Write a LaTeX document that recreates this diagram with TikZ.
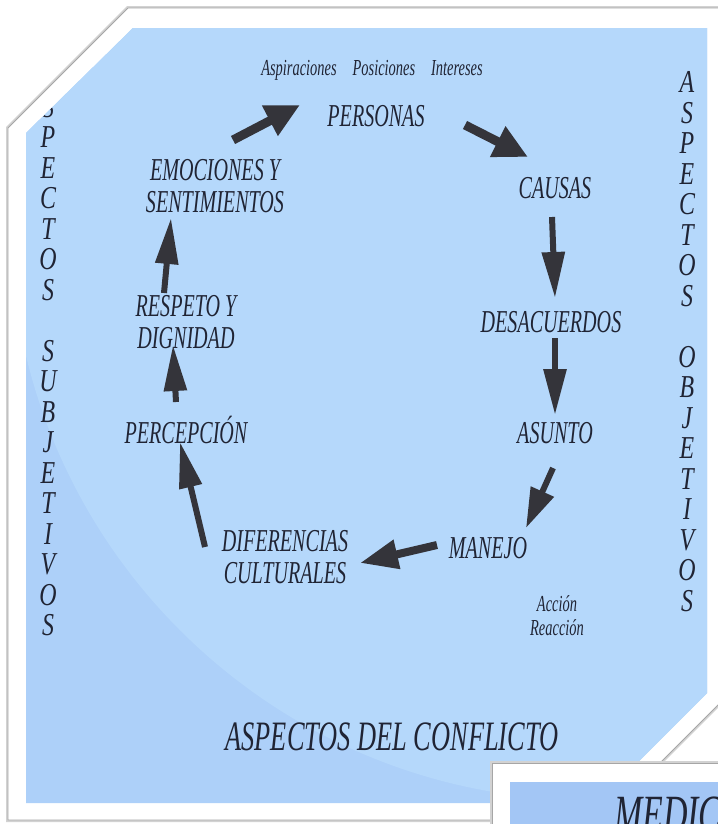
\documentclass[tikz,border=0pt]{standalone}
\usepackage{fontspec}
\setmainfont{Liberation Serif}
\newfontfamily\angosta{Liberation Serif}[FakeStretch=0.63]
\newfontfamily\columnaf{Liberation Serif}[FakeStretch=0.75]
\usetikzlibrary{arrows.meta}

\definecolor{azulclaro}{RGB}{181,216,251}
\definecolor{azulfondo}{RGB}{173,208,249}
\definecolor{azulmedio}{RGB}{163,198,245}
\definecolor{gristexto}{RGB}{32,36,52}
\definecolor{grisflecha}{RGB}{52,52,58}

\tikzset{
  etiqueta/.style={font=\angosta\itshape\fontsize{32}{32}\selectfont, text=gristexto, align=center, inner sep=0pt},
  nota/.style={font=\angosta\itshape\fontsize{23}{24}\selectfont, text=gristexto, align=center, inner sep=0pt},
  letra/.style={font=\columnaf\itshape\fontsize{32}{32}\selectfont, text=gristexto, inner sep=0pt, anchor=base},
  flecha/.style={draw=grisflecha, line width=6bp, -{Triangle[length=46bp,width=22bp]}},
  flechaancha/.style={draw=grisflecha, line width=9bp, -{Triangle[length=34bp,width=32bp]}},
}

\begin{document}
\begin{tikzpicture}[x=1bp,y=-1bp]
	\useasboundingbox (0,0) rectangle (718,824);
	\clip (0,0) rectangle (718,824);
	\fill[white] (0,0) rectangle (718,824);

	% tarjeta principal
	\draw[gray!35,line width=4bp] (128,8)--(740,8)--(740,683)--(603,820)--(8,820)--(8,128)--cycle;
	\fill[white] (128,8)--(740,8)--(740,683)--(603,820)--(8,820)--(8,128)--cycle;
	\draw[gray!70,line width=0.8bp] (128,8)--(740,8)--(740,683)--(603,820)--(8,820)--(8,128)--cycle;

	% fondo azul
	\fill[azulfondo] (133,28)--(707,28)--(707,693)--(597,803)--(26,803)--(26,133)--cycle;
	\begin{scope}
		\clip (133,28)--(707,28)--(707,693)--(597,803)--(26,803)--(26,133)--cycle;
		\fill[azulclaro] (590,220) circle [radius=580];

		% columnas
		\foreach \l [count=\i from 0] in {A,S,P,E,C,T,O,S,{},S,U,B,J,E,T,I,V,O,S}
			\node[letra] (izq-\i) at (48,76+\i*30.5+10.6) {\l};
		\foreach \l [count=\i from 0] in {A,S,P,E,C,T,O,S,{},O,B,J,E,T,I,V,O,S}
			\node[letra] (der-\i) at (687,82+\i*30.5+10.6) {\l};
	\end{scope}

	% textos
	\node[nota] (aspiraciones) at (372,70) {Aspiraciones\hspace{16bp}Posiciones\hspace{16bp}Intereses};
	\node[etiqueta] (personas) at (376,116) {PERSONAS};
	\node[etiqueta] (causas) at (555,188) {CAUSAS};
	\node[etiqueta] (desacuerdos) at (551,322) {DESACUERDOS};
	\node[etiqueta] (asunto) at (555,433) {ASUNTO};
	\node[etiqueta] (manejo) at (488,548) {MANEJO};
	\node[nota] (accion) at (557,616) {Acción\\Reacción};
	\node[etiqueta] (diferencias) at (285,557) {DIFERENCIAS\\CULTURALES};
	\node[etiqueta] (percepcion) at (186,430) {PERCEPCIÓN};
	\node[etiqueta] (respeto) at (186,322) {RESPETO Y\\DIGNIDAD};
	\node[etiqueta] (emociones) at (215,186) {EMOCIONES Y\\SENTIMIENTOS};
	\node[etiqueta,font=\angosta\itshape\fontsize{42}{42}\selectfont] (titulo) at (392,737) {ASPECTOS DEL CONFLICTO};

	% extremos de las flechas
	\coordinate (f1a) at (233,140); \coordinate (f1b) at (300,105);
	\coordinate (f2a) at (465,125); \coordinate (f2b) at (528,157);
	\coordinate (f3a) at (552,217); \coordinate (f3b) at (555,298);
	\coordinate (f4a) at (555,338); \coordinate (f4b) at (555,415);
	\coordinate (f5a) at (553,468); \coordinate (f5b) at (526,528);
	\coordinate (f6a) at (437,545); \coordinate (f6b) at (360,563);
	\coordinate (f7a) at (205,547); \coordinate (f7b) at (180,442);
	\coordinate (f8a) at (176,402); \coordinate (f8b) at (173,345);
	\coordinate (f9a) at (164,293); \coordinate (f9b) at (171,218);

	\draw[flechaancha] (f1a) -- (f1b);
	\draw[flechaancha] (f2a) -- (f2b);
	\draw[flecha] (f3a) -- (f3b);
	\draw[flecha] (f4a) -- (f4b);
	\draw[flecha,-{Triangle[length=40bp,width=24bp]}] (f5a) -- (f5b);
	\draw[flecha,line width=8bp,-{Triangle[length=38bp,width=28bp]}] (f6a) -- (f6b);
	\draw[flecha] (f7a) -- (f7b);
	\draw[flecha] (f8a) -- (f8b);
	\draw[flecha] (f9a) -- (f9b);

	% segunda tarjeta
	\draw[gray!35,line width=4bp] (492,763) rectangle (760,860);
	\fill[white] (492,763) rectangle (760,860);
	\draw[gray!70,line width=0.8bp] (492,763) rectangle (760,860);
	\fill[azulmedio] (510,782) rectangle (760,860);
	\node[anchor=base west,inner sep=0pt,text=gristexto,font=\angosta\itshape\fontsize{54}{54}\selectfont] (medic) at (614,832) {MEDIC};
\end{tikzpicture}
\end{document}
